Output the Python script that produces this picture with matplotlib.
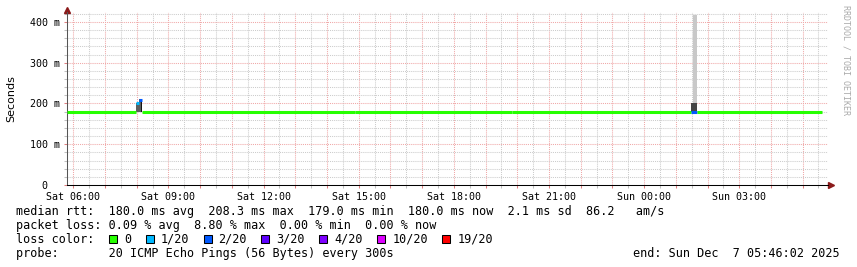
import matplotlib
matplotlib.use('Agg')
import matplotlib.pyplot as plt
from matplotlib.ticker import MultipleLocator, FuncFormatter
from matplotlib.patches import Rectangle

# time axis in hours since Sat 00:00
t_start = 5.8
t_end = 29.8

# median rtt (seconds), piecewise constant between breakpoints
med_edges = [5.8, 7.98, 8.07, 8.16, 14.88, 19.84, 25.48, 25.68, 29.62]
med_vals = [0.180, 0.200, 0.208, 0.180, 0.179, 0.180, 0.180, 0.180]
med_loss = [0, 1, 2, 0, 0, 0, 2, 0]   # index into loss colours

# smoke (spread of the 20 pings)
smoke_t0 = [7.98, 8.07, 8.13, 25.48, 25.55]
smoke_t1 = [8.07, 8.16, 8.16, 25.68, 25.68]
smoke_lo = [0.180, 0.180, 0.180, 0.180, 0.200]
smoke_hi = [0.201, 0.211, 0.210, 0.200, 0.417]
smoke_col = ['#5e5e5e', '#5e5e5e', '#151515', '#444444', '#c8c8c8']

loss_labels = ['0', '1/20', '2/20', '3/20', '4/20', '10/20', '19/20']
loss_colors = ['#26ff00', '#00b8ff', '#0059ff', '#5e00ff', '#7e00ff', '#dd00ff', '#ff0000']

stats_rtt = 'median rtt:  180.0 ms avg  208.3 ms max  179.0 ms min  180.0 ms now  2.1 ms sd  86.2   am/s'
stats_loss = 'packet loss: 0.09 % avg  8.80 % max  0.00 % min  0.00 % now'
probe_txt = 'probe:       20 ICMP Echo Pings (56 Bytes) every 300s'
end_txt = 'end: Sun Dec  7 05:46:02 2025'

MONO = 'DejaVu Sans Mono'
W, H = 857, 267
fig = plt.figure(figsize=(W / 100, H / 100), dpi=100)
fig.patch.set_facecolor('white')
ax = fig.add_axes([67 / W, (H - 185) / H, (828 - 67) / W, (185 - 12) / H])

ax.set_xlim(t_start, t_end)
ax.set_ylim(0, 0.4245)

# grid
ax.xaxis.set_major_locator(MultipleLocator(1))
ax.xaxis.set_minor_locator(MultipleLocator(0.5))
ax.yaxis.set_major_locator(MultipleLocator(0.1))
ax.yaxis.set_minor_locator(MultipleLocator(0.02))
ax.grid(which='major', color='#f0a8a8', linestyle=(0, (1, 1)), linewidth=0.75)
ax.grid(which='minor', color='#cccccc', linestyle=(0, (1, 1)), linewidth=0.75)
ax.set_axisbelow(True)


def xfmt(h, pos):
    hr = int(round(h))
    if hr % 3:
        return ''
    day = 'Sat' if hr < 24 else 'Sun'
    return '%s %02d:00' % (day, hr % 24)


def yfmt(v, pos):
    if abs(v) < 1e-9:
        return '0  '
    return '%d m' % round(v * 1000)


ax.xaxis.set_major_formatter(FuncFormatter(xfmt))
ax.yaxis.set_major_formatter(FuncFormatter(yfmt))
ax.tick_params(which='both', labelsize=7.2, length=2, width=0.75)
ax.tick_params(which='major', color='#e08080')
ax.tick_params(which='minor', color='#c0c0c0')
ax.tick_params(axis='x', pad=3)
ax.tick_params(axis='y', pad=3)
for lab in ax.get_xticklabels() + ax.get_yticklabels():
    lab.set_fontfamily(MONO)

for s in ['top', 'right']:
    ax.spines[s].set_visible(False)
ax.spines['left'].set_color('#555555')
ax.spines['bottom'].set_color('black')
ax.spines['left'].set_linewidth(0.75)
ax.spines['bottom'].set_linewidth(0.75)

# smoke
widths = [b - a for a, b in zip(smoke_t0, smoke_t1)]
heights = [b - a for a, b in zip(smoke_lo, smoke_hi)]
ax.bar(smoke_t0, heights, width=widths, bottom=smoke_lo, align='edge',
       color=smoke_col, linewidth=0, zorder=2)

# median line coloured by loss
for i, v in enumerate(med_vals):
    ax.hlines(v, med_edges[i], med_edges[i + 1], color=loss_colors[med_loss[i]],
              linewidth=2.2, zorder=3)

# axis arrows
ax.plot([0], [1 + 2 / 173], marker='^', markersize=4.5, color='#8b1a1a',
        transform=ax.transAxes, clip_on=False)
ax.plot([1 + 3 / 761], [0], marker='>', markersize=4.5, color='#8b1a1a',
        transform=ax.transAxes, clip_on=False)

fig.text(11 / W, 1 - 98.5 / H, 'Seconds', rotation=90, ha='center', va='center',
         fontsize=8, family='DejaVu Sans')
fig.text(846 / W, 1 - 60 / H, 'RRDTOOL / TOBI OETIKER', rotation=-90, ha='center',
         va='center', fontsize=6, family=MONO, color='#aaaaaa')

# legend / stats
def fy(py):
    return 1 - py / H

fs = 8.5
cw = 7.1
fig.text(16 / W, fy(215), stats_rtt, fontsize=fs, family=MONO, va='baseline')
fig.text(16 / W, fy(229), stats_loss, fontsize=fs, family=MONO, va='baseline')
fig.text(16 / W, fy(243), 'loss color:', fontsize=fs, family=MONO, va='baseline')
fig.text(16 / W, fy(257), probe_txt, fontsize=fs, family=MONO, va='baseline')
fig.text(840 / W, fy(257), end_txt, fontsize=fs, family=MONO, va='baseline', ha='right')

x = 109
for lab, col in zip(loss_labels, loss_colors):
    fig.patches.append(Rectangle((x / W, fy(243)), 8 / W, 8 / H, transform=fig.transFigure,
                                 facecolor=col, edgecolor='black', linewidth=0.75))
    fig.text((x + 15) / W, fy(243), lab, fontsize=fs, family=MONO, va='baseline')
    x = x + 15 + len(lab) * cw + 14.5

fig.savefig('out.png', dpi=100, facecolor='white')
